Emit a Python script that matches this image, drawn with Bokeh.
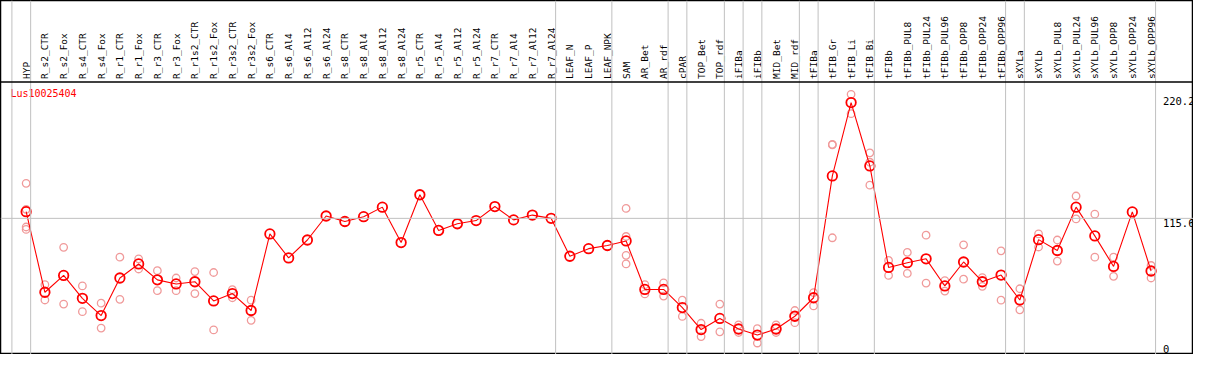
import math
from bokeh.plotting import figure
from bokeh.models import Range1d, Span, ColumnDataSource
from bokeh.core.properties import value
from bokeh.embed import file_html
from bokeh.resources import INLINE

# ---------------- data ----------------
gene = "Lus10025404"

categories = [
    "HYP",
    "R_s2_CTR", "R_s2_Fox", "R_s4_CTR", "R_s4_Fox", "R_r1_CTR", "R_r1_Fox",
    "R_r3_CTR", "R_r3_Fox", "R_r1s2_CTR", "R_r1s2_Fox", "R_r3s2_CTR", "R_r3s2_Fox",
    "R_s6_CTR", "R_s6_Al4", "R_s6_Al12", "R_s6_Al24",
    "R_s8_CTR", "R_s8_Al4", "R_s8_Al12", "R_s8_Al24",
    "R_r5_CTR", "R_r5_Al4", "R_r5_Al12", "R_r5_Al24",
    "R_r7_CTR", "R_r7_Al4", "R_r7_Al12", "R_r7_Al24",
    "LEAF_N", "LEAF_P", "LEAF_NPK",
    "SAM", "AR_Bet", "AR_rdf",
    "cPAR",
    "TOP_Bet", "TOP_rdf",
    "iFIBa",
    "iFIBb",
    "MID_Bet", "MID_rdf",
    "tFIBa",
    "tFIB_Gr", "tFIB_Li", "tFIB_Bi",
    "tFIBb", "tFIBb_PUL8", "tFIBb_PUL24", "tFIBb_PUL96", "tFIBb_OPP8", "tFIBb_OPP24", "tFIBb_OPP96",
    "sXYLa",
    "sXYLb", "sXYLb_PUL8", "sXYLb_PUL24", "sXYLb_PUL96", "sXYLb_OPP8", "sXYLb_OPP24", "sXYLb_OPP96",
]

# number of consecutive categories in each separated group
group_sizes = [1, 28, 3, 3, 1, 2, 1, 1, 2, 1, 3, 7, 1, 7]

means = [
    121.3, 52.4, 66.8, 47.2, 32.5, 64.6, 76.6, 63.0, 59.5, 61.4, 45.0, 51.3, 36.8,
    102.3, 81.8, 97.1, 117.6, 112.9, 117.0, 125.2, 94.9,
    135.8, 105.3, 111.0, 113.7, 125.7, 114.3, 118.4, 115.6,
    83.2, 89.7, 92.4,
    96.3, 54.8, 54.8,
    39.3,
    20.5, 30.0,
    21.0,
    15.8,
    21.0, 31.9,
    47.7,
    151.9, 214.6, 160.4,
    73.6, 77.7, 81.0, 57.8, 78.3, 61.4, 67.1,
    45.8,
    97.4, 88.1, 125.2, 100.6, 74.5, 121.1, 70.6,
]

replicates = [
    [145.6, 123.3, 108.2, 106.1],
    [58.9, 45.8], [90.8, 42.3], [57.8, 35.8], [43.1, 21.8], [82.4, 46.4], [81.0, 72.3],
    [70.9, 53.8], [64.6, 53.8], [70.1, 51.3], [69.3, 20.2], [54.6, 47.7], [45.6, 28.4],
    [], [], [], [], [], [], [], [],
    [], [], [], [], [], [], [], [],
    [], [], [],
    [124.1, 100.1, 84.0, 76.6], [58.9, 51.0], [60.5, 49.1],
    [45.6, 31.7],
    [25.9, 14.5], [42.3, 18.6],
    [24.5, 18.0],
    [21.3, 9.0],
    [24.5, 18.0], [36.8, 26.4],
    [52.1, 40.7],
    [178.9, 178.4, 99.0], [221.7, 205.1], [171.6, 163.6, 144.0],
    [79.6, 66.8], [86.5, 68.5], [101.2, 60.3], [62.4, 53.4], [93.0, 63.6], [64.9, 57.5], [87.8, 45.6],
    [55.4, 37.4],
    [102.3, 91.1], [97.1, 79.1], [134.7, 115.1], [119.2, 82.4], [82.4, 66.0], [], [75.3, 64.6],
]

scale_ticks = [0, 115.6, 220.2]
scale_labels = ["0", "115.6", "220.2"]

# ---------------- layout ----------------
W, H = 1193, 354
X_START, X_END = -1.368, 62.263
Y_START, Y_END = -0.82, 301.9
HEADER_LINE = 232.3
LABEL_BASE = 234.8
SEP_OFFSET = 0.24
RIGHT_LABEL_X = 60.63
TITLE_X, TITLE_Y = -0.84, 222.5

FONT = value("DejaVu Sans Mono")

x_idx = list(range(len(categories)))
rep_x, rep_y = [], []
for i, reps in enumerate(replicates):
    for v in reps:
        rep_x.append(i)
        rep_y.append(v)

sep_pos = [-1 + SEP_OFFSET]
acc = -1
for g in group_sizes:
    acc += g
    sep_pos.append(acc + SEP_OFFSET)

p = figure(
    width=W, height=H,
    x_range=Range1d(X_START, X_END), y_range=Range1d(Y_START, Y_END),
    output_backend="svg", toolbar_location=None,
    min_border=0, min_border_left=0, min_border_right=0,
    min_border_top=0, min_border_bottom=0,
    x_axis_location=None, y_axis_location=None,
    background_fill_color="white", border_fill_color="white",
    outline_line_color="black", outline_line_width=1.5,
)
p.grid.visible = False

# separators
for xs in sep_pos:
    p.add_layout(Span(location=xs, dimension="height", line_color="#c0c0c0", line_width=1))
# horizontal mid grid line
p.add_layout(Span(location=scale_ticks[1], dimension="width", line_color="#c0c0c0", line_width=1))
# header line
p.add_layout(Span(location=HEADER_LINE, dimension="width", line_color="black", line_width=1.5))

# category labels
cat_src = ColumnDataSource(dict(x=x_idx, y=[LABEL_BASE] * len(categories), t=categories))
p.text(x="x", y="y", text="t", source=cat_src, angle=math.pi / 2,
       text_align="left", text_baseline="middle",
       text_font=FONT, text_font_size="9.5px", text_color="black")

# replicates
p.scatter(rep_x, rep_y, marker="circle", size=7.5, fill_color=None,
          line_color="#f09a9a", line_width=1.3)
# mean line
p.line(x_idx, means, line_color="red", line_width=1.1)
# means
p.scatter(x_idx, means, marker="circle", size=9.5, fill_color=None,
          line_color="red", line_width=1.8)

# gene label
p.text(x=[TITLE_X], y=[TITLE_Y], text=[gene], text_align="left", text_baseline="middle",
       text_font=FONT, text_font_size="10px", text_color="red")

# right scale labels
p.text(x=[RIGHT_LABEL_X] * 2, y=scale_ticks[1:], text=scale_labels[1:],
       text_align="left", text_baseline="top", y_offset=1,
       text_font=FONT, text_font_size="10.5px", text_color="black")
p.text(x=[RIGHT_LABEL_X], y=scale_ticks[:1], text=scale_labels[:1],
       text_align="left", text_baseline="bottom", y_offset=-1,
       text_font=FONT, text_font_size="10.5px", text_color="black")

open("out.html", "w").write(file_html(p, INLINE))
